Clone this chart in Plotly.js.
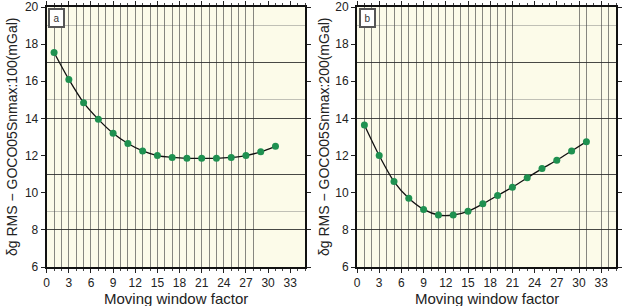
<!DOCTYPE html>
<html>
<head>
<meta charset="utf-8">
<script src="https://cdn.plot.ly/plotly-3.0.1.min.js"></script>
<style>html,body{margin:0;padding:0;background:#fff;}#chart{width:624px;height:306px;}</style>
</head>
<body>
<div id="chart"></div>
<script>
// ---- data ----
const windowFactor = [1,3,5,7,9,11,13,15,17,19,21,23,25,27,29,31];
const rmsNmax100 = [17.55,16.1,14.85,13.95,13.2,12.65,12.25,12.0,11.9,11.85,11.85,11.85,11.9,12.0,12.2,12.5];
const rmsNmax200 = [13.65,12.0,10.6,9.7,9.1,8.8,8.8,9.0,9.4,9.85,10.3,10.8,11.3,11.75,12.25,12.75];
const xTickVals = [0,3,6,9,12,15,18,21,24,27,30,33];
const yTickVals = [6,8,10,12,14,16,18,20];
const panelLabels = ['a','b'];
const yTitles = ['δg RMS − GOCO05Snmax:100(mGal)','δg RMS − GOCO05Snmax:200(mGal)'];
const xTitle = 'Moving window factor';
// grid line positions (as in the reference)
const vGridA = [1,2,3,4,5,6,7,8,9,10,11,12,13,14,15,16,17,18,19,20,21,22,23,24,25,26,27,28];
const vGridB = [1,2,3,4,5,6,7,8,9,10,11,12,13,14,15,16,17,18,19,20,21,30,31,33,34];
const hGridDark = [8,11,14,17];
const hGridLight = [9,15,19];

const FONT = 'Liberation Sans, Arial, sans-serif';
const TXT = '#222';
const green = '#1f9150';
const domA = [46.7/624, 305/624];
const domB = [357/624, 616/624];
const domY = [1-267/306, 1-7/306];

function mainX(dom, anchor){
  return {domain:dom, anchor:anchor, range:[0,35], tickvals:xTickVals, showgrid:false,
    ticks:'outside', ticklen:4, tickwidth:1, tickcolor:'#222',
    minor:{dtick:1, tick0:0, ticks:'outside', ticklen:2, tickcolor:'#444', showgrid:false},
    showline:true, linewidth:2, linecolor:'#111', mirror:'ticks', zeroline:false,
    tickfont:{family:FONT,size:12,color:TXT}, fixedrange:true};
}
function mainY(dom, anchor){
  return {domain:dom, anchor:anchor, range:[6,20], tickvals:yTickVals, showgrid:false,
    ticks:'outside', ticklen:4, tickwidth:1, tickcolor:'#222',
    minor:{tickvals:hGridLight, ticks:'', showgrid:true, gridcolor:'rgba(120,120,120,0.45)', gridwidth:1},
    showline:true, linewidth:2, linecolor:'#111', mirror:'ticks', zeroline:false,
    tickfont:{family:FONT,size:12,color:TXT}, fixedrange:true};
}
function gridX(over, vals){
  return {overlaying:over, range:[0,35], tickvals:vals, showticklabels:false, ticks:'',
    showgrid:true, gridcolor:'rgba(70,70,70,0.65)', gridwidth:1, showline:false, zeroline:false, fixedrange:true};
}
function gridY(over){
  return {overlaying:over, range:[6,20], tickvals:hGridDark, showticklabels:false, ticks:'',
    showgrid:true, gridcolor:'rgba(40,40,40,0.85)', gridwidth:1, showline:false, zeroline:false, fixedrange:true};
}

const traces = [
  {x:windowFactor, y:rmsNmax100, xaxis:'x', yaxis:'y', mode:'lines+markers', line:{color:'#111',width:1.3,shape:'spline',smoothing:0.8},
   marker:{color:green,size:7}, hoverinfo:'skip'},
  {x:windowFactor, y:rmsNmax200, xaxis:'x2', yaxis:'y2', mode:'lines+markers', line:{color:'#111',width:1.3,shape:'spline',smoothing:0.8},
   marker:{color:green,size:7}, hoverinfo:'skip'},
  {x:[], y:[], xaxis:'x3', yaxis:'y3', mode:'markers', hoverinfo:'skip', showlegend:false},
  {x:[], y:[], xaxis:'x4', yaxis:'y4', mode:'markers', hoverinfo:'skip', showlegend:false}
];

const annotations = [];
[[domA,'x','y'],[domB,'x2','y2']].forEach(function(p,i){
  const cx = (p[0][0]+p[0][1])/2;
  annotations.push({xref:'paper', yref:'paper', x:cx, y:1-298/306, text:xTitle, showarrow:false,
    xanchor:'center', yanchor:'middle', font:{family:FONT,size:15,color:TXT}});
  annotations.push({xref:'paper', yref:'paper', x:(i===0?12:324)/624, y:1-137/306, text:yTitles[i], showarrow:false,
    textangle:-90, xanchor:'center', yanchor:'middle', font:{family:FONT,size:14,color:TXT}});
  annotations.push({xref:p[1]+' domain', yref:p[2]+' domain', x:0.006, y:0.995, text:panelLabels[i], showarrow:false,
    xanchor:'left', yanchor:'top', font:{family:FONT,size:10,color:'#333'}, bgcolor:'#fff',
    bordercolor:'#555', borderwidth:2, borderpad:2, width:9, height:12});
});

const layout = {
  width:624, height:306, margin:{l:0,r:0,t:0,b:0},
  paper_bgcolor:'#fff', plot_bgcolor:'#fcfbe9', showlegend:false,
  xaxis:mainX(domA,'y'), yaxis:mainY(domY,'x'),
  xaxis2:mainX(domB,'y2'), yaxis2:mainY(domY,'x2'),
  xaxis3:Object.assign(gridX('x',vGridA),{anchor:'y3'}), yaxis3:Object.assign(gridY('y'),{anchor:'x3'}),
  xaxis4:Object.assign(gridX('x2',vGridB),{anchor:'y4'}), yaxis4:Object.assign(gridY('y2'),{anchor:'x4'}),
  annotations:annotations
};
Plotly.newPlot('chart', traces, layout, {staticPlot:true, displayModeBar:false});
</script>
</body>
</html>
